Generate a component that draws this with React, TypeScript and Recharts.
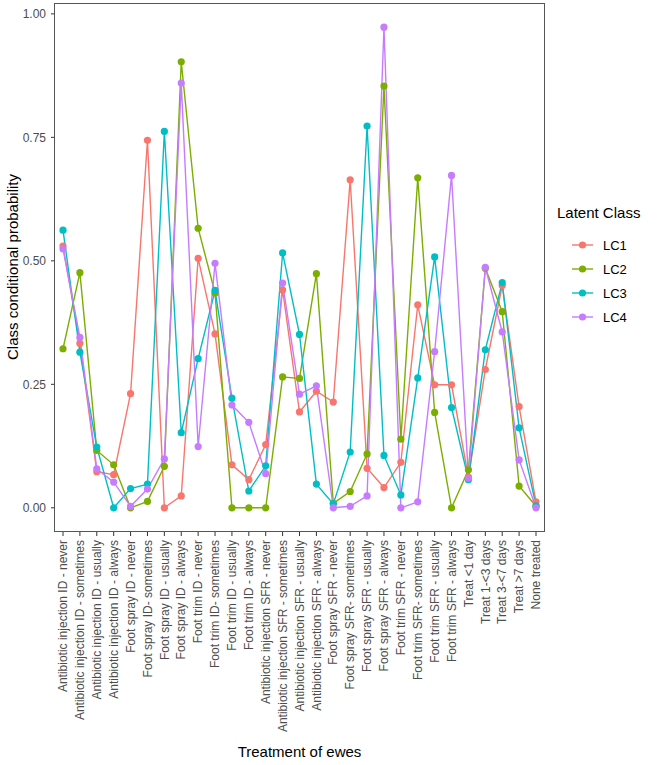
import { CartesianGrid, Line, LineChart, XAxis, YAxis } from "recharts";

const categories = [
  "Antibiotic injection ID - never",
  "Antibiotic injection ID - sometimes",
  "Antibiotic injection ID - usually",
  "Antibiotic injection ID - always",
  "Foot spray ID - never",
  "Foot spray ID- sometimes",
  "Foot spray ID - usually",
  "Foot spray ID - always",
  "Foot trim ID - never",
  "Foot trim ID- sometimes",
  "Foot trim ID - usually",
  "Foot trim ID - always",
  "Antibiotic injection SFR - never",
  "Antibiotic injection SFR - sometimes",
  "Antibiotic injection SFR - usually",
  "Antibiotic injection SFR - always",
  "Foot spray SFR - never",
  "Foot spray SFR- sometimes",
  "Foot spray SFR - usually",
  "Foot spray SFR - always",
  "Foot trim SFR - never",
  "Foot trim SFR- sometimes",
  "Foot trim SFR - usually",
  "Foot trim SFR - always",
  "Treat <1 day",
  "Treat 1-<3 days",
  "Treat 3-<7 days",
  "Treat >7 days",
  "None treated",
];

const lc1 = [0.53, 0.333, 0.073, 0.067, 0.231, 0.744, 0, 0.024, 0.505, 0.352, 0.087, 0.057, 0.128, 0.441, 0.194, 0.236, 0.214, 0.664, 0.08, 0.041, 0.092, 0.411, 0.249, 0.249, 0.062, 0.28, 0.45, 0.205, 0.012];
const lc2 = [0.322, 0.476, 0.116, 0.087, 0, 0.013, 0.084, 0.903, 0.566, 0.435, 0, 0, 0, 0.265, 0.262, 0.474, 0.009, 0.033, 0.109, 0.854, 0.139, 0.668, 0.193, 0, 0.077, 0.485, 0.397, 0.044, 0.003];
const lc3 = [0.562, 0.315, 0.123, 0, 0.039, 0.048, 0.762, 0.152, 0.302, 0.44, 0.222, 0.034, 0.085, 0.516, 0.351, 0.048, 0.008, 0.113, 0.773, 0.106, 0.026, 0.263, 0.508, 0.203, 0.057, 0.32, 0.456, 0.162, 0.004];
const lc4 = [0.524, 0.345, 0.079, 0.052, 0.003, 0.038, 0.099, 0.86, 0.124, 0.495, 0.208, 0.173, 0.069, 0.455, 0.23, 0.247, 0, 0.003, 0.024, 0.973, 0, 0.012, 0.316, 0.673, 0.06, 0.487, 0.356, 0.097, 0];

const yTicks = [0, 0.25, 0.5, 0.75, 1];

const SERIES = [
  { key: "LC1", color: "#F8766D" },
  { key: "LC2", color: "#7CAE00" },
  { key: "LC3", color: "#00BFC4" },
  { key: "LC4", color: "#C77CFF" },
];

const data = categories.map((c, i) => ({
  cat: c,
  LC1: lc1[i],
  LC2: lc2[i],
  LC3: lc3[i],
  LC4: lc4[i],
}));

const FONT = '"Liberation Sans", Arial, sans-serif';
const TICK = { fontSize: 12, fill: "#4d4d4d", fontFamily: FONT };

function XTick({ x, y, payload }: any) {
  return (
    <g transform={`translate(${x},${y})`}>
      <text
        transform="rotate(-90)"
        x={-2}
        dy="0.35em"
        textAnchor="end"
        fill="#4d4d4d"
        fontSize={12}
        fontFamily={FONT}
      >
        {payload.value}
      </text>
    </g>
  );
}

export default function App() {
  return (
    <div style={{ position: "absolute", left: 0, top: 0, width: 661, height: 765, background: "#fff", fontFamily: FONT }}>
      <LineChart
        width={661}
        height={765}
        data={data}
        margin={{ top: 3, right: 116, bottom: 0, left: 0 }}
      >
        <CartesianGrid horizontal={false} vertical={false} />
        <XAxis
          dataKey="cat"
          interval={0}
          height={233}
          padding={{ left: 9, right: 9 }}
          axisLine={false}
          tickLine={{ stroke: "#333" }}
          tickSize={4}
          tickMargin={2}
          tick={<XTick />}
        />
        <YAxis
          type="number"
          domain={[-0.049, 1.022]}
          ticks={yTicks}
          allowDataOverflow
          width={54}
          axisLine={false}
          tickLine={{ stroke: "#333" }}
          tickSize={3}
          tickMargin={5}
          tick={TICK}
          tickFormatter={(v: number) => v.toFixed(2)}
        />
        {SERIES.map((s) => (
          <Line
            key={s.key}
            dataKey={s.key}
            stroke={s.color}
            strokeWidth={1.4}
            dot={{ r: 3.6, fill: s.color, stroke: "none" }}
            activeDot={false}
            isAnimationActive={false}
          />
        ))}
      </LineChart>

      {/* panel border */}
      <div
        style={{
          position: "absolute",
          left: 54,
          top: 3,
          width: 491,
          height: 529,
          border: "1px solid #555",
          boxSizing: "border-box",
          pointerEvents: "none",
        }}
      />

      {/* axis titles */}
      <div style={{ position: "absolute", left: 54, width: 491, top: 743, textAlign: "center", fontSize: 15, color: "#000" }}>
        Treatment of ewes
      </div>
      <div
        style={{
          position: "absolute",
          left: 12,
          top: 267,
          transform: "translate(-50%, -50%) rotate(-90deg)",
          whiteSpace: "nowrap",
          fontSize: 15,
          color: "#000",
        }}
      >
        Class conditional probability
      </div>

      {/* legend */}
      <div style={{ position: "absolute", left: 557, top: 204, fontSize: 15, color: "#000" }}>Latent Class</div>
      {SERIES.map((s, i) => (
        <div key={s.key} style={{ position: "absolute", left: 572, top: 235 + i * 24, height: 20, display: "flex", alignItems: "center" }}>
          <svg width={21} height={20}>
            <line x1={0} y1={10} x2={21} y2={10} stroke={s.color} strokeWidth={1.4} />
            <circle cx={10.5} cy={10} r={3.6} fill={s.color} />
          </svg>
          <span style={{ marginLeft: 10, fontSize: 13 }}>{s.key}</span>
        </div>
      ))}
    </div>
  );
}
